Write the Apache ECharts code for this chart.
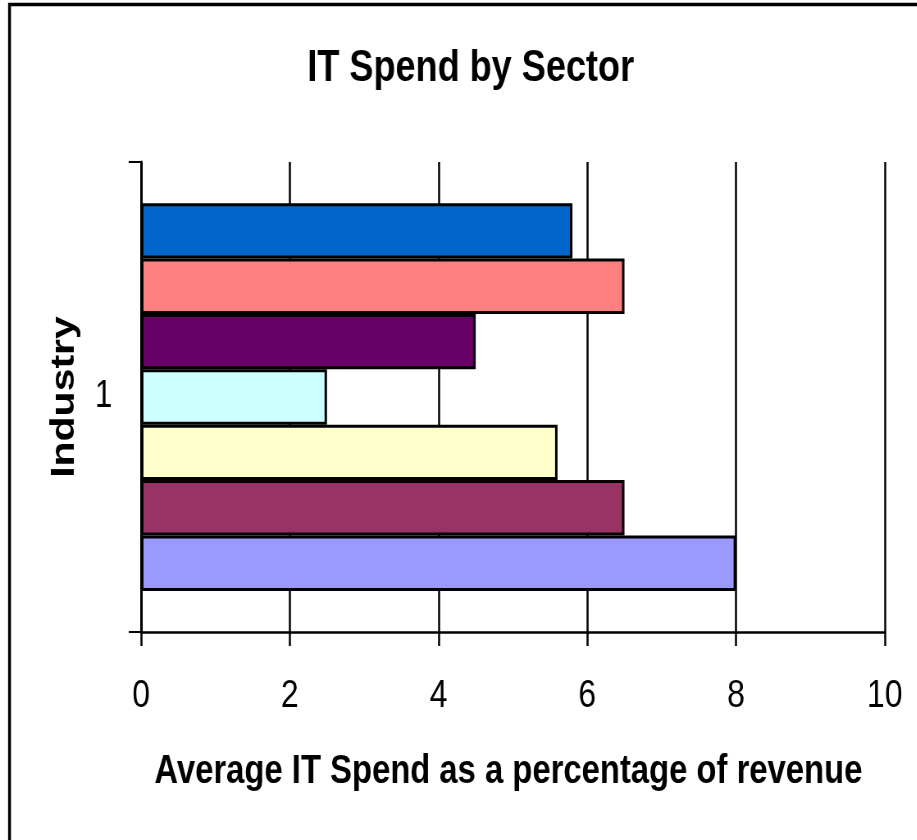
<!DOCTYPE html>
<html>
<head>
<meta charset="utf-8">
<title>IT Spend by Sector</title>
<script src="https://cdn.jsdelivr.net/npm/echarts@6/dist/echarts.min.js"></script>
<style>
  html, body { margin: 0; padding: 0; background: #ffffff; overflow: hidden; }
  /* The chart is laid out on a wider canvas and squeezed horizontally,
     which gives the condensed lettering of the original sheet. */
  #chart {
    width: 1118px;
    height: 840px;
    transform: scaleX(0.82);
    transform-origin: 0 0;
  }
</style>
</head>
<body>
<div id="chart"></div>
<script>
// Category on the vertical axis
const categories = ['1'];

// Sector series in workbook order (Series1 is drawn at the bottom)
const seriesNames = ['Series1', 'Series2', 'Series3', 'Series4', 'Series5', 'Series6', 'Series7'];
const seriesValues = [8.0, 6.5, 5.6, 2.5, 4.5, 6.5, 5.8];
const seriesColors = ['#9999FF', '#993366', '#FFFFCC', '#CCFFFF', '#660066', '#FF8080', '#0066CC'];

// Value axis range and step
const xMin = 0;
const xMax = 10;
const xStep = 2;

const sans = "'Liberation Sans', Arial, Helvetica, sans-serif";

const chart = echarts.init(document.getElementById('chart'), null, { renderer: 'canvas' });

// ECharts stacks horizontal bar series from the top down, so feed them in reverse
const series = seriesNames.map((name, i) => ({
  name: name,
  type: 'bar',
  data: [seriesValues[i]],
  itemStyle: {
    color: seriesColors[i],
    borderColor: '#000000',
    borderWidth: 3
  },
  emphasis: { disabled: true },
  animation: false
})).reverse();
series[0].barGap = '0%';
series[0].barCategoryGap = '17.5%';

chart.setOption({
  backgroundColor: '#ffffff',
  animation: false,
  title: {
    text: 'IT Spend by Sector',
    left: 569,
    top: 42,
    textAlign: 'center',
    textStyle: {
      fontFamily: sans,
      fontWeight: 'bold',
      fontSize: 44,
      color: '#000000'
    }
  },
  grid: {
    left: 172,
    right: 39,
    top: 162,
    bottom: 208,
    containLabel: false
  },
  xAxis: {
    type: 'value',
    min: xMin,
    max: xMax,
    interval: xStep,
    name: 'Average IT Spend as a percentage of revenue',
    nameLocation: 'middle',
    nameGap: 120,
    nameTextStyle: {
      fontFamily: sans,
      fontWeight: 'bold',
      fontSize: 40,
      color: '#000000',
      padding: [0, 11, 0, 0]
    },
    axisLine: { show: true, lineStyle: { color: '#000000', width: 2.5 } },
    axisTick: { show: true, length: 14, lineStyle: { color: '#000000', width: 2.5 } },
    axisLabel: {
      margin: 45,
      fontFamily: sans,
      fontSize: 39,
      color: '#000000'
    },
    splitLine: { show: true, lineStyle: { color: '#000000', width: 2.5 } }
  },
  yAxis: {
    type: 'category',
    data: categories,
    name: 'Industry',
    nameLocation: 'middle',
    nameGap: 73,
    nameRotate: 90,
    nameTextStyle: {
      fontFamily: sans,
      fontWeight: 'bold',
      fontSize: 41,
      color: '#000000'
    },
    axisLine: { show: true, lineStyle: { color: '#000000', width: 3 } },
    axisTick: { show: true, length: 15, lineStyle: { color: '#000000', width: 2 } },
    axisLabel: {
      margin: 35,
      fontFamily: sans,
      fontSize: 38,
      color: '#000000',
      padding: [10, 0, 0, 0]
    },
    splitLine: { show: false }
  },
  graphic: [{
    type: 'polyline',
    shape: { points: [[11.6, 860], [11.6, 4.5], [1140, 4.5]] },
    style: { stroke: '#000000', lineWidth: 3.5, fill: null },
    silent: true
  }],
  series: series
});
</script>
</body>
</html>
